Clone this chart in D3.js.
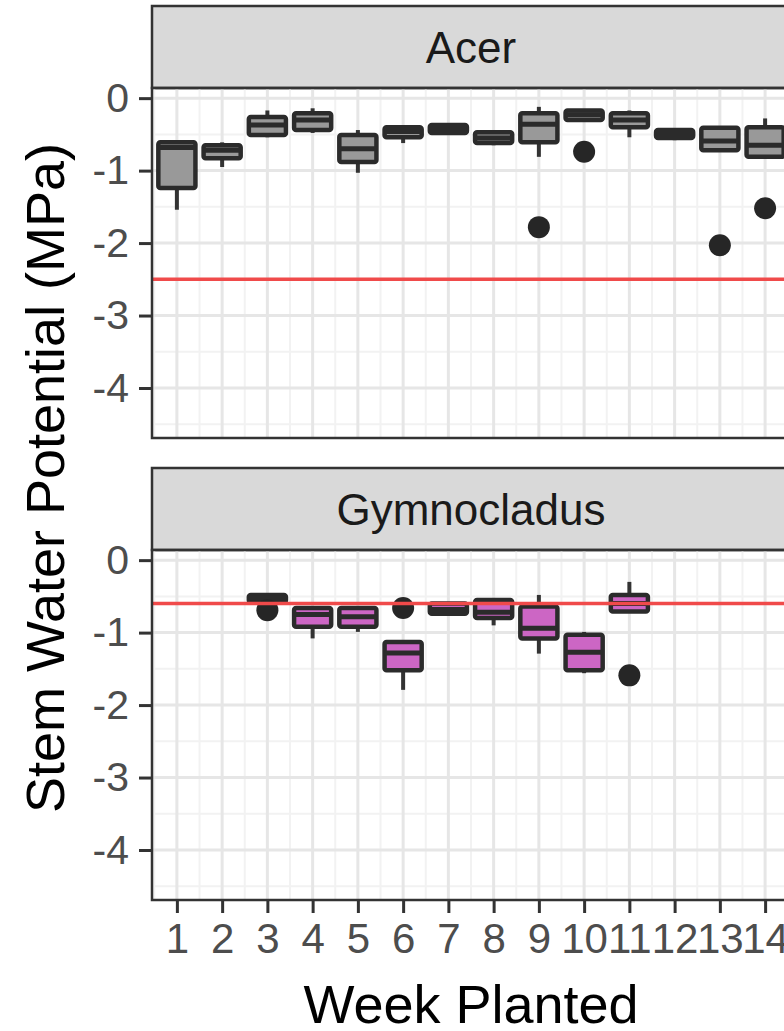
<!DOCTYPE html>
<html>
<head>
<meta charset="utf-8">
<script src="https://cdn.jsdelivr.net/npm/d3@7"></script>
<style>
  body { margin: 0; background: #fff; }
  text { font-family: "Liberation Sans", Arial, Helvetica, sans-serif; }
</style>
</head>
<body>
<svg id="chart" width="784" height="1031"></svg>
<script>
// week planted, x categories
const weeks = [1, 2, 3, 4, 5, 6, 7, 8, 9, 10, 11, 12, 13, 14];
const yTicks = [0, -1, -2, -3, -4];
const panelNames = ["Acer", "Gymnocladus"];
const thresholds = [-2.5, -0.6];

// Acer box stats per week
const acerLow  = [-1.54, -0.95, -0.54, -0.48, -1.03, -0.62, -0.48, -0.65, -0.81, -0.30, -0.54, -0.58, -0.72, -0.81];
const acerQ1   = [-1.24, -0.83, -0.51, -0.44, -0.88, -0.54, -0.48, -0.62, -0.61, -0.30, -0.40, -0.55, -0.72, -0.81];
const acerMed  = [-0.68, -0.72, -0.37, -0.30, -0.70, -0.46, -0.42, -0.55, -0.36, -0.23, -0.30, -0.50, -0.59, -0.65];
const acerQ3   = [-0.61, -0.65, -0.26, -0.21, -0.51, -0.40, -0.37, -0.47, -0.21, -0.17, -0.21, -0.44, -0.41, -0.40];
const acerHigh = [-0.61, -0.61, -0.17, -0.14, -0.44, -0.40, -0.37, -0.44, -0.12, -0.17, -0.17, -0.42, -0.41, -0.28];
const acerOutWeek = [9, 10, 13, 14];
const acerOutVal  = [-1.78, -0.74, -2.03, -1.52];

// Gymnocladus box stats per week (null = not sampled)
const gymLow  = [null, null, -0.58, -1.08, -0.99, -1.79, -0.74, -0.90, -1.29, -1.56, -0.71, null, null, null];
const gymQ1   = [null, null, -0.58, -0.92, -0.92, -1.52, -0.74, -0.80, -1.08, -1.52, -0.71, null, null, null];
const gymMed  = [null, null, -0.52, -0.75, -0.78, -1.28, -0.68, -0.72, -0.94, -1.27, -0.60, null, null, null];
const gymQ3   = [null, null, -0.48, -0.66, -0.66, -1.13, -0.60, -0.55, -0.64, -1.03, -0.48, null, null, null];
const gymHigh = [null, null, -0.48, -0.66, -0.66, -1.13, -0.60, -0.55, -0.48, -0.99, -0.30, null, null, null];
const gymOutWeek = [3, 6, 11];
const gymOutVal  = [-0.69, -0.66, -1.59];

const fills = ["#999999", "#cc66c4"];

function boxes(lo, q1, med, q3, hi) {
  return weeks.map((w, i) => ({week: w, lo: lo[i], q1: q1[i], med: med[i], q3: q3[i], hi: hi[i]}))
    .filter(d => d.med !== null);
}
const panels = [
  {name: panelNames[0], boxes: boxes(acerLow, acerQ1, acerMed, acerQ3, acerHigh),
   out: acerOutWeek.map((w, i) => ({week: w, v: acerOutVal[i]})), line: thresholds[0], fill: fills[0]},
  {name: panelNames[1], boxes: boxes(gymLow, gymQ1, gymMed, gymQ3, gymHigh),
   out: gymOutWeek.map((w, i) => ({week: w, v: gymOutVal[i]})), line: thresholds[1], fill: fills[1]}
];

const svg = d3.select("#chart");
const left = 152, right = 790;
const panelTops = [88, 550];
const panelH = 350, stripH = 82;
const dark = "#333333";

const x = d3.scaleLinear().domain([0.45, 14.55]).range([left, right]);
const minorX = d3.range(0.5, 15, 1);
const minorY = [-0.5, -1.5, -2.5, -3.5, -4.5];

panels.forEach((p, k) => {
  const top = panelTops[k];
  const y = d3.scaleLinear().domain([-4.69, 0.14]).range([top + panelH, top]);
  const g = svg.append("g");

  // strip
  g.append("rect")
    .attr("x", left).attr("y", top - stripH)
    .attr("width", right - left).attr("height", stripH)
    .attr("fill", "#d9d9d9").attr("stroke", dark).attr("stroke-width", 2.5);
  g.append("text")
    .attr("x", (left + right) / 2).attr("y", top - stripH / 2 + 16)
    .attr("text-anchor", "middle").attr("font-size", 44).attr("fill", "#1a1a1a")
    .text(p.name);

  // grid
  g.selectAll(".minx").data(minorX).enter().append("line")
    .attr("x1", d => x(d)).attr("x2", d => x(d))
    .attr("y1", top).attr("y2", top + panelH)
    .attr("stroke", "#f2f2f2").attr("stroke-width", 2);
  g.selectAll(".miny").data(minorY).enter().append("line")
    .attr("x1", left).attr("x2", right)
    .attr("y1", d => y(d)).attr("y2", d => y(d))
    .attr("stroke", "#f2f2f2").attr("stroke-width", 2);
  g.selectAll(".majx").data(weeks).enter().append("line")
    .attr("x1", d => x(d)).attr("x2", d => x(d))
    .attr("y1", top).attr("y2", top + panelH)
    .attr("stroke", "#e6e6e6").attr("stroke-width", 3);
  g.selectAll(".majy").data(yTicks).enter().append("line")
    .attr("x1", left).attr("x2", right)
    .attr("y1", d => y(d)).attr("y2", d => y(d))
    .attr("stroke", "#e6e6e6").attr("stroke-width", 3);

  // boxplots
  const bw = 0.82;
  const b = g.selectAll(".box").data(p.boxes).enter().append("g");
  b.append("line")
    .attr("x1", d => x(d.week)).attr("x2", d => x(d.week))
    .attr("y1", d => y(d.hi)).attr("y2", d => y(d.q3))
    .attr("stroke", dark).attr("stroke-width", 4);
  b.append("line")
    .attr("x1", d => x(d.week)).attr("x2", d => x(d.week))
    .attr("y1", d => y(d.q1)).attr("y2", d => y(d.lo))
    .attr("stroke", dark).attr("stroke-width", 4);
  b.append("rect")
    .attr("x", d => x(d.week - bw / 2))
    .attr("width", d => x(d.week + bw / 2) - x(d.week - bw / 2))
    .attr("y", d => y(d.q3))
    .attr("height", d => Math.max(2, y(d.q1) - y(d.q3)))
    .attr("fill", p.fill).attr("stroke", "#2b2b2b").attr("stroke-width", 4.5)
    .attr("rx", 2);
  b.append("line")
    .attr("x1", d => x(d.week - bw / 2)).attr("x2", d => x(d.week + bw / 2))
    .attr("y1", d => y(d.med)).attr("y2", d => y(d.med))
    .attr("stroke", "#2b2b2b").attr("stroke-width", 5);

  g.selectAll(".out").data(p.out).enter().append("circle")
    .attr("cx", d => x(d.week)).attr("cy", d => y(d.v))
    .attr("r", 11).attr("fill", "#262626");

  // threshold line
  g.append("line")
    .attr("x1", left).attr("x2", right)
    .attr("y1", y(p.line)).attr("y2", y(p.line))
    .attr("stroke", "#f04a4a").attr("stroke-width", 3.5);

  // panel border
  g.append("rect")
    .attr("x", left).attr("y", top)
    .attr("width", right - left).attr("height", panelH)
    .attr("fill", "none").attr("stroke", dark).attr("stroke-width", 2.5);

  // y axis
  const yAxis = d3.axisLeft(y).tickValues(yTicks).tickSize(13).tickPadding(10)
    .tickFormat(d3.format("d"));
  const ya = g.append("g").attr("transform", `translate(${left},0)`).call(yAxis);
  ya.select(".domain").remove();
  ya.selectAll(".tick line").attr("stroke", dark).attr("stroke-width", 3);
  ya.selectAll(".tick text").attr("font-size", 41).attr("fill", "#4d4d4d")
    .attr("font-family", "Liberation Sans, Arial, sans-serif")
    .text(d => d === 0 ? "0" : "-" + Math.abs(d));

  if (k === panels.length - 1) {
    const xAxis = d3.axisBottom(x).tickValues(weeks).tickSize(13).tickPadding(10)
      .tickFormat(d3.format("d"));
    const xa = g.append("g").attr("transform", `translate(0,${top + panelH})`).call(xAxis);
    xa.select(".domain").remove();
    xa.selectAll(".tick line").attr("stroke", dark).attr("stroke-width", 3);
    xa.selectAll(".tick text").attr("font-size", 42).attr("fill", "#4d4d4d")
      .attr("font-family", "Liberation Sans, Arial, sans-serif");
  }
});

// axis titles
svg.append("text")
  .attr("x", (left + right) / 2).attr("y", 1023)
  .attr("text-anchor", "middle").attr("font-size", 54).attr("fill", "#000")
  .text("Week Planted");
svg.append("text")
  .attr("transform", "translate(64,478) rotate(-90)")
  .attr("text-anchor", "middle").attr("font-size", 54).attr("fill", "#000")
  .text("Stem Water Potential (MPa)");
</script>
</body>
</html>
